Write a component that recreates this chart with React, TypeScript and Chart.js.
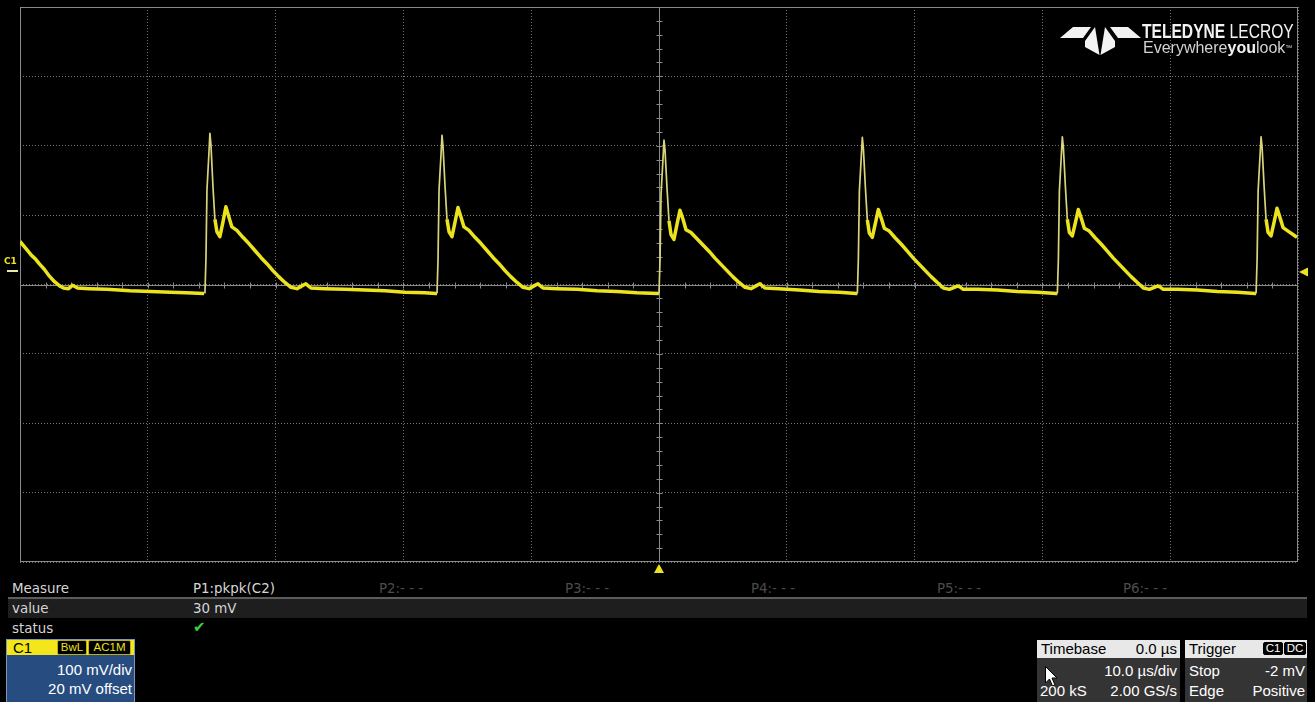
import React, { useEffect, useRef } from "react";
import { Chart, registerables } from "chart.js";

Chart.register(...registerables);

// ---- axis / scope settings ----
const timeGridUs = [-50, -40, -30, -20, -10, 0, 10, 20, 30, 40, 50];
const voltGridMv = [-420, -320, -220, -120, -20, 80, 180, 280, 380];
const screenCenterMv = -20; // 20 mV offset
const triggerTimeUs = 0;
const triggerLevelMv = -2;
const groundMv = 0;
const minorTimeUs = 2;
const minorVoltMv = 20;

type Pt = [number, number]; // [time µs, voltage mV]

const cycle0: Pt[] = [
  [-50.0, 42], [-49.5, 31], [-49.1, 22], [-48.8, 17], [-48.5, 10], [-48.1, 2], [-47.7, -8],
  [-47.3, -16], [-46.9, -22], [-46.6, -25], [-46.2, -26], [-45.9, -21], [-45.5, -25],
  [-44.6, -26], [-43.2, -27], [-41.4, -29], [-39.8, -30], [-38.2, -31], [-37.0, -32], [-35.6, -33],
];
const cycle1: Pt[] = [
  [-35.53, -33], [-35.45, 16], [-35.37, 117], [-35.22, 168], [-35.14, 198], [-35.06, 182],
  [-34.9, 121], [-34.75, 74], [-34.59, 56], [-34.36, 49], [-34.12, 70], [-33.89, 92],
  [-33.65, 77], [-33.42, 63], [-33.03, 58], [-32.56, 48], [-32.09, 39], [-31.62, 29],
  [-31.15, 19], [-30.68, 10], [-30.21, 0], [-29.74, -9], [-29.27, -17], [-28.8, -24],
  [-28.33, -26], [-27.94, -22], [-27.63, -19], [-27.24, -25], [-26.14, -26], [-24.57, -27],
  [-23.01, -28], [-21.44, -29], [-19.88, -31], [-18.32, -32], [-17.45, -33],
];
const cycle2: Pt[] = [
  [-17.37, -33], [-17.29, 16], [-17.21, 117], [-17.06, 166], [-16.98, 195], [-16.9, 179],
  [-16.74, 121], [-16.59, 74], [-16.43, 56], [-16.2, 49], [-15.96, 70], [-15.73, 91],
  [-15.49, 77], [-15.26, 63], [-14.87, 58], [-14.4, 48], [-13.93, 39], [-13.46, 29],
  [-12.99, 19], [-12.52, 10], [-12.05, 0], [-11.58, -9], [-11.11, -17], [-10.64, -24],
  [-10.17, -26], [-9.78, -22], [-9.47, -19], [-9.08, -25], [-7.98, -26], [-6.41, -27],
  [-4.85, -29], [-3.28, -30], [-1.72, -32], [-0.08, -33],
];
const cycle3: Pt[] = [
  [0.0, -33], [0.08, 16], [0.16, 110], [0.31, 160], [0.39, 188], [0.47, 174], [0.63, 118],
  [0.78, 72], [0.94, 52], [1.17, 45], [1.41, 67], [1.64, 87], [1.88, 74], [2.11, 59],
  [2.5, 55], [2.97, 46], [3.44, 37], [3.91, 28], [4.38, 18], [4.85, 9], [5.32, 0],
  [5.79, -9], [6.26, -17], [6.73, -24], [7.2, -26], [7.59, -22], [7.9, -19], [8.29, -25],
  [9.39, -26], [10.96, -28], [12.52, -30], [14.09, -31], [15.45, -33],
];
const cycle4: Pt[] = [
  [15.52, -33], [15.6, 16], [15.68, 115], [15.83, 165], [15.91, 192], [15.99, 177],
  [16.15, 120], [16.3, 73], [16.46, 54], [16.69, 48], [16.93, 68], [17.16, 88], [17.4, 75],
  [17.63, 61], [18.02, 57], [18.49, 47], [18.96, 38], [19.43, 28], [19.9, 18], [20.37, 9],
  [20.84, 0], [21.31, -9], [21.78, -17], [22.25, -25], [22.72, -27], [23.11, -24],
  [23.42, -22], [23.81, -27], [24.91, -27], [26.48, -28], [28.04, -30], [29.61, -31], [31.09, -33],
];
const cycle5: Pt[] = [
  [31.17, -33], [31.25, 16], [31.33, 115], [31.48, 166], [31.56, 193], [31.64, 178],
  [31.8, 121], [31.95, 74], [32.11, 55], [32.34, 50], [32.58, 69], [32.81, 88], [33.05, 75],
  [33.28, 61], [33.67, 57], [34.14, 47], [34.61, 38], [35.08, 28], [35.55, 18], [36.02, 9],
  [36.49, 0], [36.96, -9], [37.43, -17], [37.9, -25], [38.37, -27], [38.76, -24],
  [39.07, -22], [39.46, -27], [40.56, -27], [42.13, -28], [43.69, -30], [45.26, -31], [46.64, -33],
];
const cycle6: Pt[] = [
  [46.72, -33], [46.8, 16], [46.88, 115], [47.03, 166], [47.11, 193], [47.19, 178],
  [47.35, 121], [47.5, 74], [47.66, 55], [47.89, 50], [48.13, 70], [48.36, 90], [48.6, 76],
  [48.83, 62], [49.22, 57], [49.69, 51], [49.92, 48],
];

const trace: Pt[] = [...cycle0, ...cycle1, ...cycle2, ...cycle3, ...cycle4, ...cycle5, ...cycle6];

// ---- bottom panel texts ----
const rowLabels = ["Measure", "value", "status"];
const paramHeaders = ["P1:pkpk(C2)", "P2:- - -", "P3:- - -", "P4:- - -", "P5:- - -", "P6:- - -"];
const paramValues = ["30 mV"];
const channelInfo = { name: "C1", badges: ["BwL", "AC1M"], scale: "100 mV/div", offset: "20 mV offset" };
const timebaseInfo = { delay: "0.0 µs", perDiv: "10.0 µs/div", samples: "200 kS", rate: "2.00 GS/s" };
const triggerInfo = { badges: ["C1", "DC"], mode: "Stop", level: "-2 mV", type: "Edge", slope: "Positive" };

const YELLOW = "#ebe31e";

const scopePlugin = {
  id: "scopeDecor",
  beforeDatasetsDraw(chart: any) {
    const { ctx, chartArea: a, scales } = chart;
    const xs = scales.x;
    const ys = scales.y;
    ctx.save();
    ctx.strokeStyle = "#8a8a8a";
    ctx.lineWidth = 1;
    const L = Math.round(a.left) + 0.5;
    const T = Math.round(a.top) + 0.5;
    const R = Math.round(a.right) - 0.5;
    const B = Math.round(a.bottom) - 0.5;
    ctx.strokeRect(L, T, R - L, B - T);
    const cx = Math.round(xs.getPixelForValue(triggerTimeUs)) + 0.5;
    const cy = Math.round(ys.getPixelForValue(screenCenterMv)) + 0.5;
    ctx.beginPath();
    ctx.moveTo(cx, T);
    ctx.lineTo(cx, B);
    ctx.moveTo(L, cy);
    ctx.lineTo(R, cy);
    for (let t = xs.min + minorTimeUs; t < xs.max; t += minorTimeUs) {
      const px = Math.round(xs.getPixelForValue(t)) + 0.5;
      ctx.moveTo(px, cy - 3);
      ctx.lineTo(px, cy + 3);
    }
    for (let v = ys.min + minorVoltMv; v < ys.max; v += minorVoltMv) {
      const py = Math.round(ys.getPixelForValue(v)) + 0.5;
      ctx.moveTo(cx - 3, py);
      ctx.lineTo(cx + 3, py);
    }
    ctx.stroke();
    ctx.restore();
  },
  afterDatasetsDraw(chart: any) {
    const { ctx, chartArea: a, scales } = chart;
    const xs = scales.x;
    const ys = scales.y;
    ctx.save();
    // ground marker C1
    const gy = ys.getPixelForValue(groundMv);
    ctx.fillStyle = YELLOW;
    ctx.font = "bold 9px 'DejaVu Sans'";
    ctx.textBaseline = "alphabetic";
    ctx.fillText(channelInfo.name, 4, gy - 7);
    ctx.fillStyle = "#e8e6b0";
    ctx.fillRect(7, Math.round(gy) - 1, 11, 2);
    // trigger level arrow (right)
    const ty = ys.getPixelForValue(triggerLevelMv);
    ctx.fillStyle = YELLOW;
    ctx.beginPath();
    ctx.moveTo(a.right + 1, ty);
    ctx.lineTo(a.right + 10, ty - 4.5);
    ctx.lineTo(a.right + 10, ty + 4.5);
    ctx.closePath();
    ctx.fill();
    // trigger time arrow (bottom)
    const tx = xs.getPixelForValue(triggerTimeUs);
    ctx.beginPath();
    ctx.moveTo(tx, a.bottom + 2);
    ctx.lineTo(tx + 5, a.bottom + 11);
    ctx.lineTo(tx - 5, a.bottom + 11);
    ctx.closePath();
    ctx.fill();
    ctx.restore();
  },
};

function T(props: { x: number; y: number; w?: number; right?: boolean; color?: string; size?: number; family?: string; bold?: boolean; children: React.ReactNode }) {
  const { x, y, w, right, color = "#d6d6d6", size = 13.4, family = "'DejaVu Sans', sans-serif", bold } = props;
  return (
    <div
      style={{
        position: "absolute",
        left: x,
        top: y,
        width: w,
        height: 17,
        lineHeight: "17px",
        fontSize: size,
        fontFamily: family,
        fontWeight: bold ? "bold" : "normal",
        color,
        whiteSpace: "nowrap",
        textAlign: right ? "right" : "left",
      }}
    >
      {props.children}
    </div>
  );
}

const SANS = "'Liberation Sans', Arial, sans-serif";

function Badge(props: { x: number; w: number; text: string; fg: string; border: string; top: number; h?: number }) {
  const h = props.h ?? 13;
  return (
    <div
      style={{
        position: "absolute",
        left: props.x,
        top: props.top,
        width: props.w,
        height: h,
        boxSizing: "border-box",
        background: "#000",
        border: `1px solid ${props.border}`,
        borderRadius: 2,
        color: props.fg,
        fontFamily: SANS,
        fontSize: 11.5,
        lineHeight: `${h - 2}px`,
        textAlign: "center",
      }}
    >
      {props.text}
    </div>
  );
}

export default function App() {
  const ref = useRef<HTMLCanvasElement>(null);

  useEffect(() => {
    const steep = (c: any) =>
      Math.abs(c.p1.parsed.y - c.p0.parsed.y) / Math.max(Math.abs(c.p1.parsed.x - c.p0.parsed.x), 1e-6) > 150;
    const chart = new Chart(ref.current as HTMLCanvasElement, {
      type: "line",
      data: {
        datasets: [
          {
            data: trace.map(([x, y]) => ({ x, y })),
            borderColor: YELLOW,
            borderWidth: 3.5,
            pointRadius: 0,
            tension: 0,
            borderJoinStyle: "round",
            segment: {
              borderWidth: (c: any) => (steep(c) ? 1.7 : 3.5),
              borderColor: (c: any) => (steep(c) ? "#d9d47c" : YELLOW),
            },
          } as any,
        ],
      },
      options: {
        animation: false,
        responsive: false,
        events: [],
        layout: { padding: { left: 20, top: 7, right: 17, bottom: 18 } },
        plugins: { legend: { display: false }, tooltip: { enabled: false } },
        scales: {
          x: {
            type: "linear",
            min: timeGridUs[0],
            max: timeGridUs[timeGridUs.length - 1],
            afterBuildTicks: (s: any) => {
              s.ticks = timeGridUs.map((v) => ({ value: v }));
            },
            afterFit: (s: any) => {
              s.height = 0;
            },
            ticks: { display: false },
            grid: { color: "#747474", lineWidth: 1, drawTicks: false },
            border: { display: false, dash: [1, 2] },
          },
          y: {
            type: "linear",
            min: voltGridMv[0],
            max: voltGridMv[voltGridMv.length - 1],
            afterBuildTicks: (s: any) => {
              s.ticks = voltGridMv.map((v) => ({ value: v }));
            },
            afterFit: (s: any) => {
              s.width = 0;
            },
            ticks: { display: false },
            grid: { color: "#747474", lineWidth: 1, drawTicks: false },
            border: { display: false, dash: [1, 2] },
          },
        },
      } as any,
      plugins: [scopePlugin as any],
    });
    return () => chart.destroy();
  }, []);

  const colX = [193, 379, 565, 751, 937, 1123];

  return (
    <div style={{ position: "absolute", left: 0, top: 0, width: 1315, height: 702, background: "#000", overflow: "hidden" }}>
      <canvas ref={ref} width={1315} height={580} style={{ position: "absolute", left: 0, top: 0, width: 1315, height: 580 }} />

      {/* logo */}
      <svg style={{ position: "absolute", left: 1058, top: 20 }} width={85} height={42} viewBox="0 0 85 42">
        <g fill="#f2f2f2">
          <polygon points="2,18 15,7 33,7 25,18" />
          <polygon points="27,21 37,7 41.5,35 27,27" />
          <polygon points="57,21 47,7 42.5,35 57,27" />
          <polygon points="83,18 70,7 52,7 60,18" />
        </g>
      </svg>
      <div style={{ position: "absolute", left: 1142, top: 21, fontFamily: SANS, fontSize: 19.5, lineHeight: "20px", color: "#f2f2f2", whiteSpace: "nowrap", transform: "scaleX(0.8)", transformOrigin: "left top" }}>
        <span style={{ fontWeight: "bold" }}>TELEDYNE</span> LECROY
      </div>
      <div style={{ position: "absolute", left: 1143, top: 39, fontFamily: SANS, fontSize: 16, lineHeight: "17px", color: "#d2d2d2", whiteSpace: "nowrap" }}>
        Everywhere<span style={{ fontWeight: "bold", color: "#f2f2f2" }}>you</span>look<span style={{ fontSize: 7, verticalAlign: "top" }}>™</span>
      </div>

      {/* measure table */}
      <div style={{ position: "absolute", left: 8, top: 597, width: 1299, height: 2, background: "#5c5c5c" }} />
      <div style={{ position: "absolute", left: 8, top: 599, width: 1299, height: 19, background: "#1e1e1e" }} />
      <T x={12} y={580}>{rowLabels[0]}</T>
      <T x={12} y={600}>{rowLabels[1]}</T>
      <T x={12} y={620}>{rowLabels[2]}</T>
      {paramHeaders.map((h, i) => (
        <T key={h} x={colX[i]} y={580} color={i === 0 ? "#d6d6d6" : "#4c4c4c"}>
          {h}
        </T>
      ))}
      {paramValues.map((v, i) => (
        <T key={v} x={colX[i]} y={600}>
          {v}
        </T>
      ))}
      <T x={193} y={619} color="#3fcf3f" size={15}>
        ✔
      </T>

      {/* channel descriptor */}
      <div style={{ position: "absolute", left: 6, top: 639, width: 129, height: 64, boxSizing: "border-box", border: "1px solid #7d98bd", background: "#274d80" }} />
      <div style={{ position: "absolute", left: 7, top: 640, width: 127, height: 15, background: "#f3e71c" }} />
      <T x={13} y={639} color="#000" size={15} family={SANS}>
        {channelInfo.name}
      </T>
      <Badge x={57} w={30} top={640} h={15} text={channelInfo.badges[0]} fg={YELLOW} border="#bfae10" />
      <Badge x={88} w={43} top={640} h={15} text={channelInfo.badges[1]} fg={YELLOW} border="#bfae10" />
      <T x={8} w={124} right y={661} color="#ffffff" size={15} family={SANS}>
        {channelInfo.scale}
      </T>
      <T x={8} w={124} right y={680} color="#ffffff" size={15} family={SANS}>
        {channelInfo.offset}
      </T>

      {/* timebase */}
      <div style={{ position: "absolute", left: 1037, top: 640, width: 143, height: 18, background: "#e8e8e8" }} />
      <div style={{ position: "absolute", left: 1037, top: 658, width: 143, height: 44, background: "#343434" }} />
      <T x={1041} y={640} color="#000" size={15} family={SANS}>Timebase</T>
      <T x={1037} w={140} right y={640} color="#000" size={15} family={SANS}>{timebaseInfo.delay}</T>
      <T x={1037} w={140} right y={662} color="#fff" size={15} family={SANS}>{timebaseInfo.perDiv}</T>
      <T x={1040} y={682} color="#fff" size={15} family={SANS}>{timebaseInfo.samples}</T>
      <T x={1037} w={140} right y={682} color="#fff" size={15} family={SANS}>{timebaseInfo.rate}</T>

      {/* trigger */}
      <div style={{ position: "absolute", left: 1185, top: 640, width: 122, height: 18, background: "#e8e8e8" }} />
      <div style={{ position: "absolute", left: 1185, top: 658, width: 122, height: 44, background: "#343434" }} />
      <T x={1189} y={640} color="#000" size={15} family={SANS}>Trigger</T>
      <Badge x={1263} w={20} top={642} text={triggerInfo.badges[0]} fg="#fff" border="#000" />
      <Badge x={1284} w={22} top={642} text={triggerInfo.badges[1]} fg="#fff" border="#000" />
      <T x={1189} y={662} color="#fff" size={15} family={SANS}>{triggerInfo.mode}</T>
      <T x={1185} w={120} right y={662} color="#fff" size={15} family={SANS}>{triggerInfo.level}</T>
      <T x={1189} y={682} color="#fff" size={15} family={SANS}>{triggerInfo.type}</T>
      <T x={1185} w={120} right y={682} color="#fff" size={15} family={SANS}>{triggerInfo.slope}</T>

      {/* mouse pointer */}
      <svg style={{ position: "absolute", left: 1045, top: 666 }} width={14} height={22} viewBox="0 0 14 22">
        <path d="M0.5,0.5 L0.5,17 L4.5,13 L7.5,20 L10,19 L7,12 L12,12 Z" fill="#fff" stroke="#000" strokeWidth={1} />
      </svg>
    </div>
  );
}
